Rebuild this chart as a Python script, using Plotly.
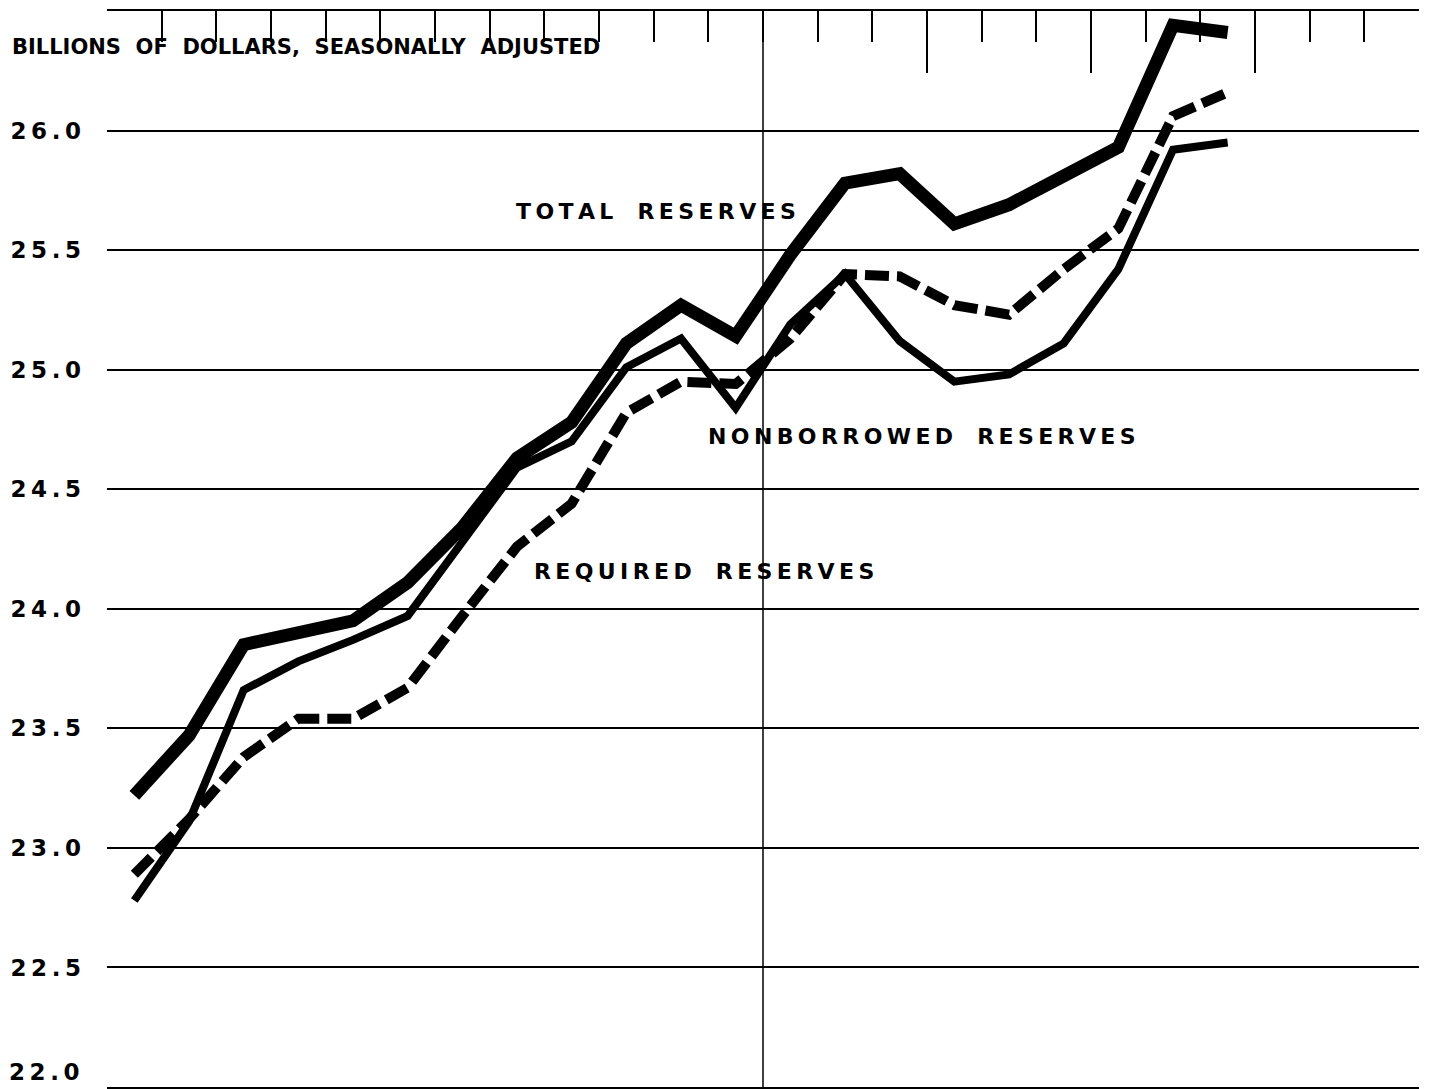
import plotly.graph_objects as go

# Month number within the two-year span (data plotted at mid-month)
months = list(range(1, 22))

total_reserves = [23.22, 23.47, 23.85, 23.90, 23.95, 24.11, 24.34, 24.63, 24.78, 25.11,
                  25.27, 25.14, 25.48, 25.78, 25.82, 25.61, 25.69, 25.81, 25.93, 26.44, 26.41]
nonborrowed_reserves = [22.78, 23.11, 23.66, 23.78, 23.87, 23.97, 24.28, 24.59, 24.70, 25.01,
                        25.13, 24.84, 25.19, 25.40, 25.12, 24.95, 24.98, 25.11, 25.42, 25.92, 25.95]
required_reserves = [22.89, 23.12, 23.38, 23.54, 23.54, 23.67, 23.97, 24.26, 24.44, 24.82,
                     24.95, 24.94, 25.13, 25.40, 25.39, 25.27, 25.23, 25.42, 25.59, 26.06, 26.16]

y_ticks = [22.0, 22.5, 23.0, 23.5, 24.0, 24.5, 25.0, 25.5, 26.0]
y_tick_labels = ["22.0", "22.5", "23.0", "23.5", "24.0", "24.5", "25.0", "25.5", "26.0"]
quarter_ticks_second_year = [15, 18, 21]

x_mid = [m - 0.5 for m in months]

NB = "\u00a0"
TH = "\u2009"


def spaced(s, gap=TH, word_gap=NB * 2):
    words = s.split(" ")
    return (gap + word_gap + gap).join(gap.join(list(w)) for w in words)


fig = go.Figure()

fig.add_trace(go.Scatter(
    x=x_mid, y=required_reserves, mode="lines", name="Required reserves",
    line=dict(color="black", width=10, dash="24px,8px"), showlegend=False))
fig.add_trace(go.Scatter(
    x=x_mid, y=nonborrowed_reserves, mode="lines", name="Nonborrowed reserves",
    line=dict(color="black", width=8), showlegend=False))
fig.add_trace(go.Scatter(
    x=x_mid, y=total_reserves, mode="lines", name="Total reserves",
    line=dict(color="black", width=13), showlegend=False))

# year boundary line
fig.add_shape(type="line", xref="x", yref="paper", x0=12, x1=12, y0=0, y1=1,
              line=dict(color="black", width=1.5), layer="below")

label_font = dict(family="DejaVu Sans", size=22, color="black", weight="bold")
tick_font = dict(family="DejaVu Sans", size=23, color="black", weight="bold")

fig.add_annotation(x=7.45, y=25.66, xref="x", yref="y", xanchor="left",
                   text=spaced("TOTAL RESERVES"), showarrow=False, font=label_font)
fig.add_annotation(x=10.95, y=24.72, xref="x", yref="y", xanchor="left",
                   text=spaced("NONBORROWED RESERVES"), showarrow=False, font=label_font)
fig.add_annotation(x=7.78, y=24.155, xref="x", yref="y", xanchor="left",
                   text=spaced("REQUIRED RESERVES"), showarrow=False, font=label_font)
fig.add_annotation(x=-0.074, y=26.35, xref="paper", yref="y", xanchor="left",
                   text=spaced("BILLIONS OF DOLLARS, SEASONALLY ADJUSTED", gap="", word_gap=NB * 2),
                   showarrow=False,
                   font=dict(family="DejaVu Sans", size=21, color="black", weight="bold"))

# bottom tick label sits on the frame, raised so it is not cut by the page edge
fig.add_annotation(x=0, y=y_ticks[0], xref="paper", yref="y", xanchor="right", yanchor="bottom",
                   xshift=-25, text=TH.join(y_tick_labels[0]), showarrow=False, font=tick_font)

# the page body adds an 8px offset, so the figure is sized and margined to compensate
fig.update_layout(
    width=1423, height=1081,
    margin=dict(l=99, r=12, t=3, b=2),
    paper_bgcolor="white", plot_bgcolor="white",
    xaxis=dict(
        range=[0, 24], side="top", showline=True, linecolor="black", linewidth=1.5,
        mirror=True, showgrid=False, zeroline=False, automargin=False,
        tickmode="array", tickvals=quarter_ticks_second_year, ticktext=["", "", ""],
        ticks="inside", ticklen=62, tickwidth=1.5, tickcolor="black",
        minor=dict(tickmode="linear", tick0=0, dtick=1, ticks="inside", ticklen=31,
                   tickwidth=1.5, tickcolor="black", showgrid=False),
    ),
    yaxis=dict(
        range=[22.0, 26.5], showline=False, zeroline=False, automargin=False,
        tickmode="array", tickvals=y_ticks[1:],
        ticktext=[TH.join(t) for t in y_tick_labels[1:]],
        showgrid=True, gridcolor="black", gridwidth=1.5, ticks="",
        ticklabelstandoff=25,
        tickfont=tick_font,
    ),
)

fig.write_html("out.html")
